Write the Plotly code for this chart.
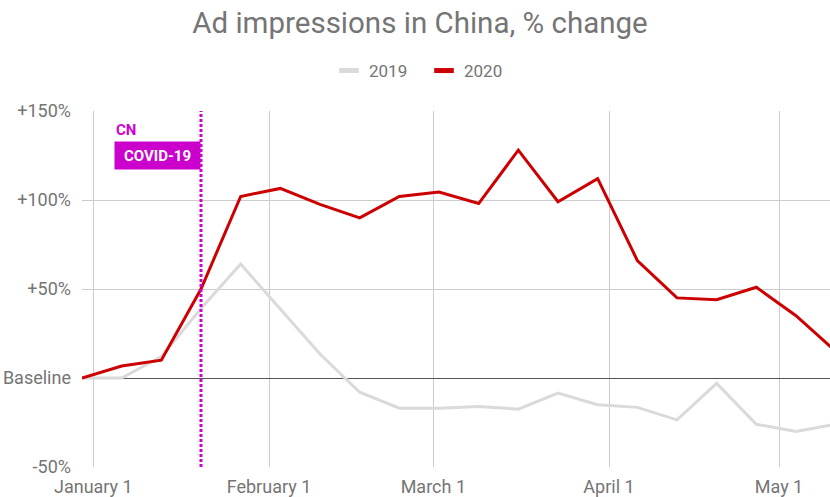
import plotly.graph_objects as go

weeks = ["2019-12-30", "2020-01-06", "2020-01-13", "2020-01-20", "2020-01-27",
         "2020-02-03", "2020-02-10", "2020-02-17", "2020-02-24", "2020-03-02",
         "2020-03-09", "2020-03-16", "2020-03-23", "2020-03-30", "2020-04-06",
         "2020-04-13", "2020-04-20", "2020-04-27", "2020-05-04", "2020-05-11"]
values_2019 = [0, 0, 12, 39, 64, 39, 13.5, -8, -17, -17,
               -16, -17.5, -8.5, -15, -16.5, -23.5, -3, -26, -30, -26]
values_2020 = [0, 6.7, 10, 50, 102, 106.5, 97.5, 90, 102, 104.5,
               98, 128, 99, 112, 66, 45, 44, 51, 35, 15]

x_tick_vals = ["2020-01-01", "2020-02-01", "2020-03-01", "2020-04-01", "2020-05-01"]
x_tick_text = ["January 1", "February 1", "March 1", "April 1", "May 1"]
y_tick_vals = [-50, 0, 50, 100, 150]
y_tick_text = ["-50%", "Baseline", "+50%", "+100%", "+150%"]

event_date = "2020-01-20"
event_region = "CN"
event_label = "COVID-19"

GRAY = "#dadada"
RED = "#cc0000"
MAGENTA = "#d000d0"
TEXT = "#757575"
FONT = "Roboto"

fig = go.Figure()
fig.add_trace(go.Scatter(x=weeks, y=values_2019, mode="lines", name="2019",
                         line=dict(color=GRAY, width=3), showlegend=False,
                         hoverinfo="skip"))
fig.add_trace(go.Scatter(x=weeks, y=values_2020, mode="lines", name="2020",
                         line=dict(color=RED, width=3), showlegend=False,
                         hoverinfo="skip"))
# legend swatches
for name, col in [("2019", GRAY), ("2020", RED)]:
    fig.add_trace(go.Scatter(x=[None], y=[None], mode="markers", name=name,
                             marker=dict(symbol="line-ew", size=14,
                                         line=dict(color=col, width=5))))

fig.add_shape(type="line", xref="x", yref="paper", x0=event_date, x1=event_date,
              y0=0, y1=1, line=dict(color=MAGENTA, width=3, dash="3px,2px"))
fig.add_annotation(x=event_date, xref="x", y=1, yref="paper", yanchor="top",
                   xanchor="right", yshift=-30, width=77, height=19,
                   text="<b>" + event_label + "</b>",
                   showarrow=False, bgcolor="#cc00cc", borderpad=4,
                   font=dict(family=FONT, size=15, color="white"))
fig.add_annotation(x=event_date, xref="x", y=1, yref="paper", yanchor="middle",
                   xanchor="left", xshift=-87, yshift=-19,
                   text="<b>" + event_region + "</b>",
                   showarrow=False, font=dict(family=FONT, size=15, color=MAGENTA))

fig.update_layout(
    width=830, height=497,
    margin=dict(l=82, r=0, t=111, b=30, autoexpand=False),
    paper_bgcolor="white", plot_bgcolor="white",
    font=dict(family=FONT, color=TEXT, size=18),
    title=dict(text="Ad impressions in China, % change", x=0.5 + 5 / 830, xref="container",
               xanchor="center", y=1 - 23 / 497, yref="container", yanchor="middle",
               font=dict(family=FONT, size=29.5, color=TEXT)),
    legend=dict(orientation="h", x=0.5 + 9 / 830, xref="container", xanchor="center",
                y=1 - 71 / 497, yref="container", yanchor="middle",
                entrywidth=50,
                font=dict(family=FONT, size=17, color=TEXT)),
    xaxis=dict(range=["2019-12-30", "2020-05-10"], tickvals=x_tick_vals,
               ticktext=x_tick_text, showgrid=True, gridcolor="#cccccc",
               gridwidth=1, zeroline=False, showline=False, ticks="",
               ticklabelstandoff=7,
               tickfont=dict(size=18, color=TEXT)),
    yaxis=dict(range=[-50, 150], tickvals=y_tick_vals, ticktext=y_tick_text,
               showgrid=True, gridcolor="#cccccc", gridwidth=1,
               zeroline=True, zerolinecolor="#555555", zerolinewidth=1,
               showline=False, ticks="", ticklabelstandoff=10,
               tickfont=dict(size=18, color=TEXT)),
)

fig.write_html("out.html",
               config={"displayModeBar": False},
               post_script="document.body.style.margin='0';"
                           "document.body.style.overflow='hidden';")
